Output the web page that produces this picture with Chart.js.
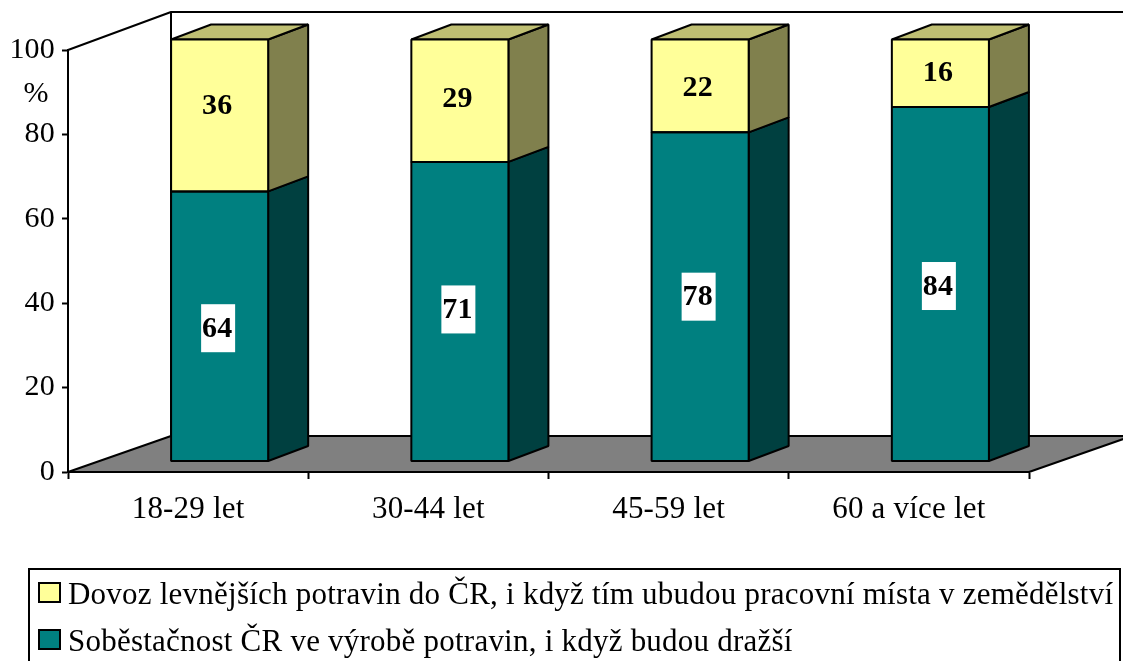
<!DOCTYPE html>
<html>
<head>
<meta charset="utf-8">
<script src="https://cdn.jsdelivr.net/npm/chart.js@4"></script>
<style>
    html, body { margin: 0; padding: 0; background: #fff; overflow: hidden; }
    #wrap { position: relative; width: 1123px; height: 661px; overflow: hidden; }
    #legend {
        position: absolute; left: 28px; top: 568px; width: 1089px; height: 120px;
        border: 2px solid #000; box-sizing: content-box;
        font: 31px "Liberation Serif", serif; letter-spacing: 0.23px; color: #000;
    }
    .row { position: absolute; left: 8px; white-space: nowrap; height: 34px; line-height: 34px; }
    .swatch { position: absolute; left: 0; top: 5px; width: 19px; height: 17px; border: 2px solid #000; }
    .row span { position: absolute; left: 30px; top: 0; }
</style>
</head>
<body>
<div id="wrap">
    <canvas id="chart" width="1123" height="661"></canvas>
    <div id="legend"></div>
</div>
<script>
// DATA
const categories = ['18-29 let', '30-44 let', '45-59 let', '60 a více let'];
const selfSufficiency = [64, 71, 78, 84];
const cheaperImport = [36, 29, 22, 16];
const selfLabel = 'Soběstačnost ČR ve výrobě potravin, i když budou dražší';
const importLabel = 'Dovoz levnějších potravin do ČR, i když tím ubudou pracovní místa v zemědělství';
const yTicks = [0, 20, 40, 60, 80, 100];

// 3D LOOK
const wallDepth = { x: 103, y: -36 };
const barShift = { x: 31.5, y: -10.5 };
const barDepth = { x: 40, y: -15 };
const FONT = '"Liberation Serif", serif';
// label placement in the original is not quite centred in the bars
const labelNudge = [[2, -2, 0, 2], [-10, -2, 1, -1]];

function poly(ctx, pts, fill) {
    ctx.beginPath();
    pts.forEach((p, i) => i ? ctx.lineTo(p[0], p[1]) : ctx.moveTo(p[0], p[1]));
    ctx.closePath();
    ctx.fillStyle = fill;
    ctx.fill();
    ctx.stroke();
}

const box3d = {
    id: 'box3d',
    beforeDraw(chart) {
        const { ctx, chartArea: a } = chart;
        const w = wallDepth;
        ctx.letterSpacing = '0.2px';
        ctx.save();
        ctx.strokeStyle = '#000';
        ctx.lineWidth = 2;
        ctx.lineJoin = 'bevel';
        // floor
        poly(ctx, [
            [a.left, a.bottom], [a.left + w.x, a.bottom + w.y],
            [chart.width + 40, a.bottom + w.y], [a.right + w.x * 1.3, a.bottom + w.y * 1.3], [a.right, a.bottom]
        ], '#808080');
        // walls
        ctx.beginPath();
        ctx.moveTo(a.left, a.top);
        ctx.lineTo(a.left + w.x, a.top + w.y - 2);
        ctx.lineTo(chart.width + 40, a.top + w.y - 2);
        ctx.moveTo(a.left + w.x, a.top + w.y - 2);
        ctx.lineTo(a.left + w.x, a.bottom + w.y);
        ctx.stroke();
        // unit
        ctx.fillStyle = '#000';
        ctx.font = '30px ' + FONT;
        ctx.textAlign = 'center';
        ctx.textBaseline = 'middle';
        ctx.fillText('%', 36, 94);
        ctx.restore();
    },
    beforeDatasetsDraw(chart) {
        const { ctx } = chart;
        ctx.save();
        ctx.translate(barShift.x, barShift.y);
        ctx.strokeStyle = '#000';
        ctx.lineWidth = 2;
        ctx.lineJoin = 'bevel';
        const d = barDepth;
        const shades = [{ side: '#004040' }, { side: '#80804D', top: '#BFBF73' }];
        chart.data.datasets.forEach((ds, i) => {
            chart.getDatasetMeta(i).data.forEach(bar => {
                const l = bar.x - bar.width / 2, r = bar.x + bar.width / 2;
                poly(ctx, [[r, bar.y], [r + d.x, bar.y + d.y], [r + d.x, bar.base + d.y], [r, bar.base]], shades[i].side);
                if (shades[i].top) {
                    poly(ctx, [[l, bar.y], [l + d.x, bar.y + d.y], [r + d.x, bar.y + d.y], [r, bar.y]], shades[i].top);
                }
            });
        });
    },
    afterDatasetsDraw(chart) {
        const { ctx } = chart;
        // front outlines and value labels
        ctx.font = 'bold 30px ' + FONT;
        ctx.textAlign = 'center';
        ctx.textBaseline = 'middle';
        chart.data.datasets.forEach((ds, i) => {
            chart.getDatasetMeta(i).data.forEach((bar, j) => {
                ctx.strokeRect(bar.x - bar.width / 2, bar.y, bar.width, bar.base - bar.y);
                const cx = bar.x - 1.5;
                const cy = (bar.y + bar.base) / 2 + labelNudge[i][j];
                if (i === 0) {
                    ctx.fillStyle = '#fff';
                    ctx.fillRect(cx - 17, cy - 24, 34, 48);
                }
                ctx.fillStyle = '#000';
                ctx.fillText(ds.data[j], cx - 1, cy + 1);
            });
        });
        ctx.restore();
    }
};

const chart = new Chart(document.getElementById('chart').getContext('2d'), {
    type: 'bar',
    data: {
        labels: categories,
        datasets: [{
            label: selfLabel,
            data: selfSufficiency,
            backgroundColor: '#008080',
            borderWidth: 0,
            clip: false
        }, {
            label: importLabel,
            data: cheaperImport,
            backgroundColor: '#FFFF99',
            borderWidth: 0,
            clip: false
        }]
    },
    options: {
        responsive: false,
        animation: false,
        events: [],
        barPercentage: 0.404,
        categoryPercentage: 1,
        layout: { padding: { top: 50, right: 94, left: 0, bottom: 0 } },
        plugins: { legend: { display: false }, tooltip: { enabled: false } },
        scales: {
            x: {
                stacked: true,
                grid: { drawOnChartArea: false, drawTicks: true, tickLength: 7, tickColor: '#000', tickWidth: 2, offset: true },
                border: { color: '#000', width: 2 },
                ticks: { color: '#000', font: { family: FONT, size: 31 }, padding: 12, maxRotation: 0, autoSkip: false },
                afterFit(scale) { scale.height = 189; }
            },
            y: {
                stacked: true,
                min: 0,
                max: 100,
                afterBuildTicks(scale) { scale.ticks = yTicks.map(v => ({ value: v })); },
                grid: { drawOnChartArea: false, tickLength: 6, tickColor: '#000', tickWidth: 2 },
                border: { color: '#000', width: 2 },
                ticks: { color: '#000', font: { family: FONT, size: 30 }, padding: 7 },
                afterFit(scale) { scale.width = 68; }
            }
        }
    },
    plugins: [box3d]
});

// LEGEND
const legend = document.getElementById('legend');
[[importLabel, '#FFFF99', 7], [selfLabel, '#008080', 54]].forEach(([text, color, top]) => {
    const row = document.createElement('div');
    row.className = 'row';
    row.style.top = top + 'px';
    const sw = document.createElement('div');
    sw.className = 'swatch';
    sw.style.background = color;
    const label = document.createElement('span');
    label.innerText = text;
    row.appendChild(sw);
    row.appendChild(label);
    legend.appendChild(row);
});
</script>
</body>
</html>
